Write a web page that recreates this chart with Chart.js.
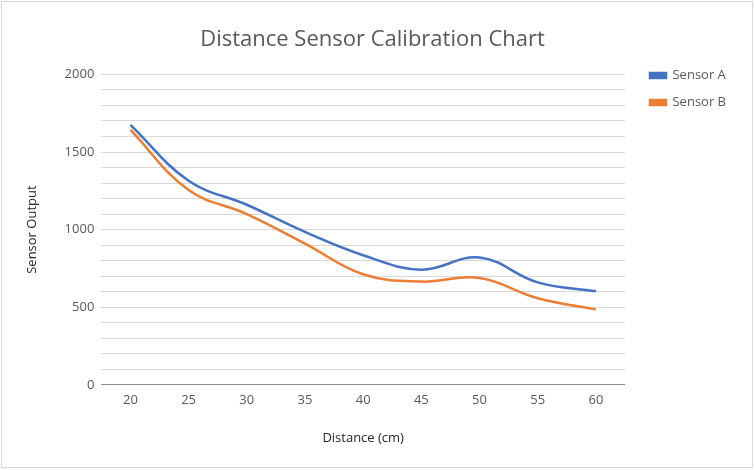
<!DOCTYPE html>
<html>
<head>
<meta charset="utf-8">
<script src="https://cdn.jsdelivr.net/npm/chart.js@4"></script>
<style>
  body { margin: 0; background: #fff; }
  #wrap { position: absolute; left: 0; top: 0; width: 755px; height: 470px; }
  #frame { position: absolute; left: 1px; top: 1px; width: 750px; height: 465px; border: 1px solid #d9d9d9; pointer-events: none; }
</style>
</head>
<body>
<div id="wrap">
  <canvas id="myChart" width="755" height="470"></canvas>
  <div id="frame"></div>
</div>
<script>
const distances = ['20', '25', '30', '35', '40', '45', '50', '55', '60'];
const sensorA = [1675, 1315, 1160, 985, 835, 742, 820, 660, 603];
const sensorB = [1642, 1255, 1100, 910, 712, 665, 688, 558, 486];
const yLabels = [0, 500, 1000, 1500, 2000];

const textColor = '#595959';
const fontFamily = "'Open Sans', 'Noto Sans', sans-serif";

// nudge the legend down and right, like the Excel layout
const legendOffset = {
  id: 'legendOffset',
  afterLayout(chart) {
    const legend = chart.legend;
    legend.left += 11;
    legend.right += 11;
    legend.top += 55;
    legend.bottom += 55;
  }
};

const ctx = document.getElementById('myChart').getContext('2d');

new Chart(ctx, {
  type: 'line',
  data: {
    labels: distances,
    datasets: [{
      label: 'Sensor A',
      data: sensorA,
      borderColor: '#4472C4',
      backgroundColor: '#4472C4',
      borderWidth: 2.5,
      tension: 0.4,
      pointRadius: 0,
      fill: false
    },
    {
      label: 'Sensor B',
      data: sensorB,
      borderColor: '#ED7D31',
      backgroundColor: '#ED7D31',
      borderWidth: 2.5,
      tension: 0.4,
      pointRadius: 0,
      fill: false
    }]
  },
  options: {
    responsive: false,
    animation: false,
    layout: {
      padding: { left: 20, right: 30, top: 0, bottom: 20 }
    },
    scales: {
      x: {
        offset: true,
        grid: { display: false, drawTicks: false },
        border: { display: true, color: '#8c8c8c', width: 1 },
        ticks: { color: textColor, font: { family: fontFamily, size: 13 }, padding: 8 },
        title: {
          display: true,
          text: 'Distance (cm)',
          color: '#262626',
          font: { family: fontFamily, size: 13 },
          padding: { top: 14 }
        }
      },
      y: {
        min: 0,
        max: 2000,
        grid: { color: '#d9d9d9', lineWidth: 1, drawTicks: false },
        border: { display: false },
        ticks: {
          stepSize: 100,
          color: textColor,
          font: { family: fontFamily, size: 13 },
          padding: 7,
          autoSkip: false,
          callback: function (value) {
            return yLabels.includes(value) ? value : '';
          }
        },
        title: {
          display: true,
          text: 'Sensor Output',
          color: '#262626',
          font: { family: fontFamily, size: 13 },
          padding: { bottom: 18 }
        }
      }
    },
    plugins: {
      title: {
        display: true,
        text: 'Distance Sensor Calibration Chart',
        color: textColor,
        font: { family: fontFamily, size: 22, weight: 'normal' },
        padding: { top: 27, bottom: 21 }
      },
      legend: {
        position: 'right',
        align: 'start',
        labels: {
          color: textColor,
          font: { family: fontFamily, size: 13 },
          boxWidth: 16,
          boxHeight: 5,
          padding: 14
        }
      },
      tooltip: { enabled: false }
    }
  },
  plugins: [legendOffset]
});
</script>
</body>
</html>
